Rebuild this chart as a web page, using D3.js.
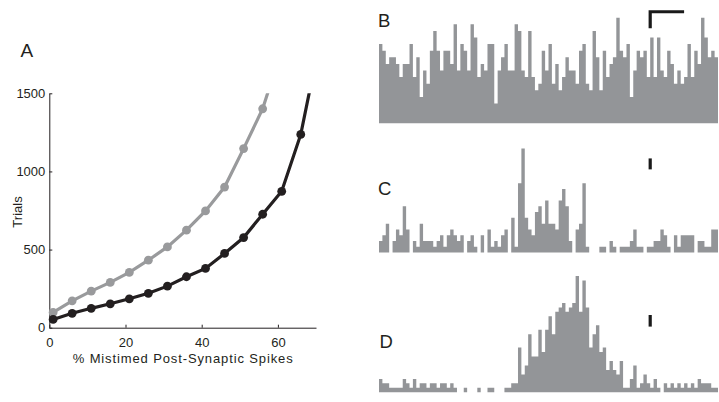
<!DOCTYPE html>
<meta charset="utf-8">
<script src="https://cdn.jsdelivr.net/npm/d3@7"></script>
<style>
  body { margin: 0; background: #fff; }
  text { font-family: "Liberation Sans", Arial, sans-serif; fill: #231f20; }
  .axis path, .axis line { stroke: #231f20; stroke-width: 1; }
  .axis text { font-size: 13px; font-family: "Liberation Sans", Arial, sans-serif; fill: #231f20; }
</style>
<body>
<script>

// panel A: trials needed vs % mistimed spikes
var mistimed = [1, 6, 11, 16, 21, 26, 31, 36, 41, 46, 51, 56, 61, 66, 71];
var trialsGrey = [98, 172, 234, 290, 354, 432, 517, 624, 747, 900, 1146, 1401, 1782];
var trialsBlack = [53, 92, 124, 153, 185, 220, 266, 326, 379, 475, 577, 726, 873, 1237, 1835];
var xTicksA = [0, 20, 40, 60];
var yTicksA = [0, 500, 1000, 1500];

// panels B-D: histograms, 100 bins each (spike counts)
var countsB = [12,11,9,10,10,9,7,9,9,12, 7,10,4,8,6,11,14,11,8,11,
               11,9,15,8,12,11,8,15,13,7, 9,8,12,12,3,8,10,12,8,8,
               15,14,8,7,14,7,5,6,11,8, 12,6,9,5,7,10,8,8,6,11,
               12,6,5,14,10,5,11,7,9,10, 16,11,10,12,4,8,11,10,11,7,
               13,7,13,8,7,11,9,6,8,6, 7,12,7,11,9,16,13,10,11,10];
var countsC = [2,3,5,0,2,4,3,8,4,0, 2,1,5,2,2,2,1,2,3,1,
               3,4,3,2,3,0,2,3,1,0, 3,0,4,1,2,1,3,4,0,6,
               1,12,18,6,4,3,7,8,5,9, 5,5,4,9,11,8,2,0,4,5,
               12,1,0,0,0,1,1,0,2,1, 0,1,1,1,2,4,1,1,0,1,
               1,2,2,4,3,1,0,3,1,3, 3,3,3,0,2,2,1,1,4,4];
var countsD = [3,2,2,1,1,1,1,3,2,1, 3,1,2,2,1,2,2,1,2,2,
               1,2,1,0,0,1,0,0,0,1, 0,0,1,1,0,0,0,1,1,2,
               2,10,4,6,13,8,8,14,9,14, 17,13,18,19,20,18,19,20,26,18,
               25,19,10,13,15,9,10,5,7,5, 4,7,1,1,3,6,1,2,4,2,
               1,3,1,0,2,1,2,1,2,1, 2,1,2,1,3,2,2,2,1,1];

// scale bars (bins, counts)
var scaleBarBins = [80, 90];
var scaleBarB = [14.4, 16.9];
var scaleBarC = [14.4, 16.3];
var scaleBarD = [14.7, 17.3];

var width = 719, height = 402;
var svg = d3.select("body").append("svg")
    .attr("width", width)
    .attr("height", height);

// ---------- panel A ----------
var xA = d3.scaleLinear().domain([0, 70]).range([49.3, 316]);
var yA = d3.scaleLinear().domain([0, 1500]).range([327.7, 93.3]);

svg.append("defs").append("clipPath")
    .attr("id", "clipA")
  .append("rect")
    .attr("x", xA(0) - 10)
    .attr("y", yA(1500))
    .attr("width", xA(70) - xA(0) + 10)
    .attr("height", yA(0) - yA(1500) + 10);

svg.append("g")
    .attr("class", "axis")
    .attr("transform", "translate(0," + yA(0) + ")")
    .call(d3.axisBottom(xA).tickValues(xTicksA).tickFormat(d3.format("d"))
        .tickSizeInner(-3).tickSizeOuter(0).tickPadding(10));

svg.append("g")
    .attr("class", "axis")
    .attr("transform", "translate(" + xA(0) + ",0)")
    .call(d3.axisLeft(yA).tickValues(yTicksA).tickFormat(d3.format("d"))
        .tickSizeInner(-3).tickSizeOuter(0).tickPadding(4));

var series = [
    {vals: trialsGrey, color: "#999a9c"},
    {vals: trialsBlack, color: "#231f20"}
];

series.forEach(function(s) {
    var pts = s.vals.map(function(v, i) { return [mistimed[i], v]; });
    var line = d3.line().x(d => xA(d[0])).y(d => yA(d[1]));
    svg.append("path")
        .attr("clip-path", "url(#clipA)")
        .attr("d", line(pts))
        .style("fill", "none")
        .style("stroke", s.color)
        .style("stroke-width", 3.2);
    svg.selectAll(null)
        .data(pts.filter(d => d[1] <= 1500))
        .enter().append("circle")
        .attr("cx", d => xA(d[0]))
        .attr("cy", d => yA(d[1]))
        .attr("r", 4.4)
        .style("fill", s.color);
});

svg.append("text")
    .attr("x", 182.7)
    .attr("y", 363)
    .attr("text-anchor", "middle")
    .attr("textLength", 220)
    .attr("lengthAdjust", "spacing")
    .style("font-size", "13px")
    .text("% Mistimed Post-Synaptic Spikes");

svg.append("text")
    .attr("transform", "translate(22,212) rotate(-90)")
    .attr("text-anchor", "middle")
    .style("font-size", "13px")
    .text("Trials");

svg.append("text")
    .attr("x", 20.5).attr("y", 57.3)
    .style("font-size", "19px")
    .text("A");

// ---------- panels B-D ----------
var xH = d3.scaleLinear().domain([0, 100]).range([379, 718]);

var panels = [
    {name: "B", counts: countsB, ymax: 17, base: 123.3, top: 11.1, bar: scaleBarB, lx: 378, ly: 26.7, hook: true},
    {name: "C", counts: countsC, ymax: 18, base: 252.5, top: 148.6, bar: scaleBarC, lx: 378, ly: 195, hook: false},
    {name: "D", counts: countsD, ymax: 26, base: 392.3, top: 276.1, bar: scaleBarD, lx: 379.5, ly: 347.7, hook: false}
];

panels.forEach(function(p) {
    var y = d3.scaleLinear().domain([0, p.ymax]).range([p.base, p.top]);
    var g = svg.append("g");

    // histogram drawn as one stepped area so adjacent bins have no seams
    var steps = p.counts.map((c, i) => [i, c]);
    steps.push([p.counts.length, p.counts[p.counts.length - 1]]);
    var area = d3.area()
        .curve(d3.curveStepAfter)
        .x(d => xH(d[0]))
        .y0(y(0))
        .y1(d => y(d[1]));
    g.append("path")
        .attr("d", area(steps))
        .style("fill", "#939598");

    // scale bar
    var pts = [[scaleBarBins[0], p.bar[0]], [scaleBarBins[0], p.bar[1]]];
    if (p.hook) pts.push([scaleBarBins[1], p.bar[1]]);
    g.append("path")
        .attr("d", d3.line().x(d => xH(d[0])).y(d => y(d[1]))(pts))
        .style("fill", "none")
        .style("stroke", "#1a1a1a")
        .style("stroke-width", 3.2);

    svg.append("text")
        .attr("x", p.lx).attr("y", p.ly)
        .style("font-size", "18.5px")
        .text(p.name);
});

</script>
</body>
</html>
